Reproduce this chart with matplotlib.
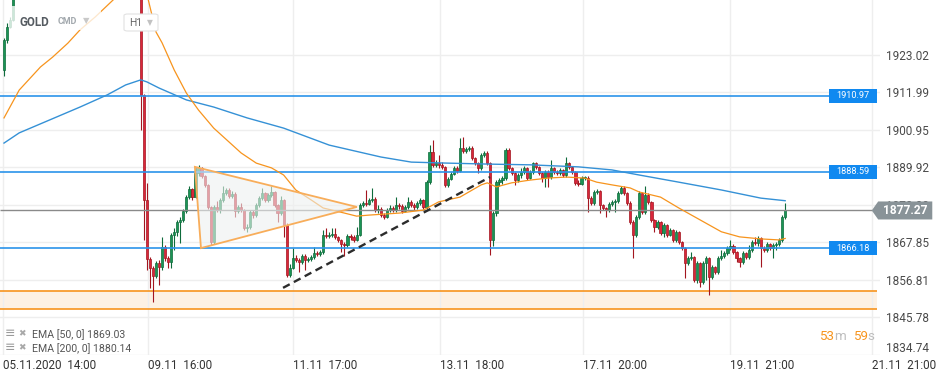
import numpy as np
import matplotlib
matplotlib.use("Agg")
import matplotlib.pyplot as plt
from matplotlib.patches import Polygon, FancyBboxPatch, Rectangle

plt.rcParams['font.family'] = ['Roboto', 'DejaVu Sans']

# ---- data (GOLD, H1) ----
first_open = 1918.6
close = [
    1927.4, 1931.3, 1933.3, 1941.5, 1944.0, 1946.2, 1945.1, 1948.3, 1950.6, 1949.2,
    1951.8, 1953.0, 1951.5, 1950.2, 1952.7, 1954.9, 1953.6, 1955.1, 1952.8, 1951.0,
    1953.4, 1956.2, 1955.0, 1957.3, 1959.1, 1958.0, 1956.4, 1954.7, 1955.9, 1957.8,
    1956.1, 1954.3, 1952.6, 1953.9, 1955.4, 1957.0, 1958.6, 1957.2, 1955.8, 1956.9,
    1958.3, 1959.5, 1960.4, 1958.7, 1957.5, 1911.3, 1880.4, 1863.0, 1860.4, 1858.0,
    1861.8, 1860.6, 1866.5, 1863.3, 1862.1, 1870.1, 1870.9, 1873.9, 1874.5, 1877.1,
    1881.2, 1883.6, 1881.2, 1888.3, 1889.8, 1887.4, 1884.8, 1878.3, 1868.0, 1878.3,
    1877.4, 1880.4, 1882.4, 1883.3, 1881.5, 1882.1, 1877.1, 1878.3, 1877.4, 1872.1,
    1872.4, 1876.8, 1876.0, 1878.9, 1880.9, 1882.4, 1880.4, 1881.8, 1882.7, 1878.9,
    1876.5, 1880.4, 1873.0, 1858.3, 1860.4, 1863.3, 1862.7, 1862.1, 1863.9, 1862.7,
    1863.0, 1863.6, 1864.8, 1864.5, 1865.1, 1870.1, 1869.8, 1870.1, 1870.4, 1869.5,
    1868.6, 1867.4, 1867.1, 1869.8, 1869.5, 1868.6, 1870.1, 1878.9, 1879.5, 1879.2,
    1880.4, 1880.7, 1877.4, 1877.8, 1876.0, 1875.4, 1877.4, 1878.0, 1877.4, 1878.9,
    1878.6, 1877.1, 1878.3, 1879.8, 1878.9, 1878.3, 1879.5, 1880.4, 1878.3, 1885.6,
    1894.5, 1890.7, 1891.2, 1890.7, 1890.1, 1884.8, 1886.5, 1888.0, 1889.8, 1888.9,
    1895.7, 1894.8, 1895.4, 1895.7, 1892.7, 1891.2, 1889.8, 1893.6, 1894.2, 1891.2,
    1868.6, 1876.5, 1885.6, 1886.2, 1886.8, 1895.1, 1889.8, 1888.3, 1886.2, 1887.7,
    1888.6, 1889.8, 1886.8, 1888.6, 1891.2, 1890.1, 1888.3, 1886.8, 1888.6, 1887.1,
    1889.8, 1888.6, 1888.3, 1889.2, 1887.7, 1891.2, 1890.1, 1888.6, 1885.4, 1885.1,
    1886.8, 1886.9, 1880.9, 1879.5, 1882.7, 1883.0, 1878.9, 1878.0, 1877.4, 1879.2,
    1879.8, 1880.1, 1882.4, 1883.9, 1882.4, 1879.5, 1873.9, 1870.1, 1875.4, 1882.4,
    1876.8, 1881.8, 1879.8, 1874.5, 1872.4, 1873.9, 1870.6, 1873.0, 1870.1, 1871.5,
    1868.6, 1870.9, 1868.0, 1866.2, 1861.8, 1863.3, 1863.6, 1856.8, 1861.8, 1856.2,
    1861.8, 1863.3, 1857.7, 1860.6, 1859.2, 1863.3, 1863.9, 1864.8, 1866.2, 1866.8,
    1865.1, 1863.3, 1862.1, 1864.8, 1863.6, 1865.6, 1868.0, 1867.7, 1869.2, 1866.2,
    1865.6, 1867.4, 1866.2, 1867.1, 1867.4, 1868.6, 1875.4, 1877.27,
]
high = [
    1928.0, 1932.4, 1934.2, 1942.3, 1944.8, 1946.9, 1947.0, 1949.0, 1951.4, 1951.2,
    1952.5, 1953.9, 1953.6, 1952.0, 1953.3, 1955.6, 1955.5, 1955.9, 1955.7, 1953.4,
    1954.0, 1956.9, 1956.8, 1958.0, 1959.9, 1959.7, 1958.6, 1956.9, 1956.5, 1958.4,
    1958.3, 1956.7, 1954.9, 1954.6, 1956.0, 1957.7, 1959.3, 1959.1, 1957.8, 1957.5,
    1959.0, 1960.2, 1961.1, 1960.9, 1959.2, 1962.0, 1911.5, 1885.4, 1863.5, 1861.0,
    1862.5, 1862.6, 1869.5, 1867.0, 1864.0, 1870.6, 1872.1, 1874.5, 1875.4, 1877.7,
    1881.8, 1884.5, 1883.9, 1890.1, 1890.7, 1890.1, 1887.7, 1885.1, 1878.6, 1878.9,
    1880.1, 1881.0, 1884.5, 1883.9, 1883.9, 1883.0, 1882.7, 1879.0, 1879.5, 1877.7,
    1873.3, 1877.4, 1877.4, 1879.5, 1881.5, 1883.9, 1882.7, 1882.4, 1884.5, 1883.0,
    1879.2, 1881.5, 1880.7, 1873.6, 1861.5, 1866.2, 1864.2, 1863.3, 1864.5, 1864.5,
    1863.6, 1864.2, 1866.5, 1865.4, 1865.7, 1871.5, 1872.1, 1870.9, 1872.1, 1872.1,
    1869.8, 1868.9, 1868.0, 1870.4, 1870.4, 1870.1, 1872.4, 1879.5, 1880.1, 1883.3,
    1881.0, 1883.9, 1881.2, 1878.9, 1878.3, 1876.5, 1878.0, 1878.9, 1878.6, 1881.2,
    1879.5, 1879.2, 1878.9, 1881.2, 1880.4, 1879.5, 1880.1, 1881.0, 1880.7, 1886.2,
    1896.5, 1898.0, 1892.1, 1893.6, 1891.5, 1890.4, 1887.1, 1888.6, 1890.4, 1890.4,
    1898.6, 1898.9, 1896.0, 1896.3, 1896.3, 1893.0, 1891.5, 1894.2, 1894.8, 1894.8,
    1891.5, 1877.1, 1886.2, 1886.8, 1887.4, 1895.7, 1895.7, 1890.1, 1888.6, 1888.3,
    1889.8, 1890.4, 1890.1, 1889.2, 1891.5, 1891.5, 1890.4, 1888.6, 1889.2, 1889.2,
    1892.1, 1890.1, 1889.2, 1889.8, 1889.5, 1893.0, 1891.5, 1890.4, 1888.9, 1886.2,
    1887.4, 1887.4, 1887.4, 1881.5, 1883.3, 1883.6, 1883.3, 1879.2, 1878.3, 1879.8,
    1880.4, 1880.7, 1883.0, 1884.5, 1884.5, 1882.7, 1880.1, 1874.5, 1876.0, 1883.0,
    1882.7, 1884.5, 1882.4, 1880.1, 1874.8, 1874.5, 1874.2, 1873.6, 1873.3, 1872.1,
    1871.8, 1871.5, 1871.2, 1868.3, 1866.5, 1863.9, 1865.1, 1863.9, 1862.4, 1862.1,
    1862.4, 1863.9, 1863.6, 1861.2, 1860.9, 1863.9, 1865.6, 1865.4, 1866.8, 1868.6,
    1867.4, 1865.4, 1863.6, 1865.4, 1865.1, 1867.1, 1868.6, 1869.5, 1869.8, 1869.5,
    1866.8, 1868.0, 1867.7, 1867.7, 1868.0, 1869.2, 1876.0, 1879.5,
]
low = [
    1916.8, 1926.6, 1931.0, 1932.9, 1940.9, 1943.5, 1944.5, 1944.8, 1947.9, 1948.6,
    1948.8, 1951.2, 1950.9, 1949.5, 1949.8, 1952.2, 1953.0, 1953.1, 1952.1, 1950.3,
    1950.6, 1953.0, 1954.4, 1954.6, 1956.8, 1957.4, 1955.8, 1954.0, 1954.2, 1955.4,
    1955.5, 1953.8, 1952.0, 1952.1, 1953.4, 1955.0, 1956.5, 1956.6, 1955.2, 1955.3,
    1956.4, 1957.9, 1959.0, 1958.1, 1956.9, 1901.0, 1868.6, 1859.8, 1854.5, 1850.4,
    1857.4, 1855.3, 1859.8, 1862.5, 1860.4, 1860.4, 1865.6, 1869.8, 1867.7, 1873.9,
    1876.5, 1880.6, 1880.4, 1880.9, 1887.4, 1886.8, 1884.2, 1877.7, 1867.1, 1867.4,
    1876.8, 1876.5, 1879.8, 1881.8, 1881.0, 1880.9, 1875.4, 1876.5, 1876.8, 1871.5,
    1870.9, 1871.8, 1875.1, 1875.4, 1878.3, 1880.4, 1879.8, 1879.8, 1881.2, 1878.3,
    1873.9, 1876.0, 1869.5, 1857.7, 1857.7, 1860.1, 1862.1, 1859.2, 1861.5, 1859.8,
    1862.1, 1862.4, 1863.0, 1863.9, 1863.9, 1864.5, 1869.2, 1869.2, 1869.5, 1868.9,
    1868.0, 1865.1, 1863.9, 1866.5, 1868.6, 1868.0, 1868.3, 1869.8, 1878.3, 1878.6,
    1878.9, 1879.8, 1876.8, 1876.5, 1875.4, 1874.8, 1875.1, 1876.8, 1876.8, 1876.8,
    1877.7, 1876.5, 1876.8, 1877.7, 1878.3, 1877.4, 1877.7, 1878.9, 1877.7, 1877.7,
    1885.1, 1890.1, 1890.1, 1889.8, 1889.5, 1884.2, 1884.2, 1886.2, 1887.7, 1888.3,
    1888.6, 1894.2, 1894.2, 1894.8, 1892.1, 1890.7, 1888.3, 1889.2, 1893.0, 1890.7,
    1864.2, 1866.8, 1875.7, 1884.5, 1885.1, 1886.2, 1889.2, 1887.7, 1884.8, 1885.6,
    1886.8, 1888.0, 1886.2, 1886.5, 1888.0, 1889.5, 1887.7, 1885.6, 1884.2, 1884.2,
    1886.5, 1888.0, 1887.7, 1887.7, 1887.1, 1887.1, 1889.5, 1888.0, 1884.8, 1884.5,
    1884.8, 1886.2, 1876.8, 1878.9, 1878.9, 1882.1, 1876.5, 1877.4, 1875.4, 1876.8,
    1878.6, 1876.8, 1879.5, 1882.1, 1881.8, 1878.9, 1873.3, 1863.3, 1869.5, 1874.8,
    1876.2, 1876.2, 1879.2, 1873.9, 1870.9, 1871.8, 1870.1, 1869.5, 1869.5, 1869.8,
    1868.0, 1868.0, 1867.4, 1865.6, 1857.4, 1861.2, 1862.7, 1856.2, 1856.0, 1854.8,
    1855.6, 1856.8, 1852.4, 1857.1, 1858.6, 1858.6, 1862.7, 1863.3, 1864.2, 1865.6,
    1864.5, 1862.1, 1860.6, 1861.5, 1863.0, 1863.0, 1865.1, 1867.1, 1866.8, 1860.6,
    1865.1, 1865.1, 1865.6, 1863.3, 1865.6, 1866.8, 1868.0, 1874.8,
]

ema50_idx = [0, 5, 12, 16, 21, 25, 30, 38, 44, 47, 50, 52, 56, 60, 64, 69, 78, 83, 88, 92,
             96, 101, 105, 112, 116, 120, 130, 138, 143, 150, 157, 159, 162, 167, 173, 179,
             185, 191, 195, 200, 206, 209, 216, 222, 229, 236, 242, 249, 255, 257]
ema50_val = [1904.5, 1912.7, 1919.5, 1922.4, 1926.5, 1930.4, 1934.2, 1941.0, 1944.4, 1941.0,
             1929.8, 1926.6, 1918.6, 1911.8, 1906.8, 1901.5, 1894.2, 1891.2, 1889.8, 1887.7,
             1883.3, 1880.4, 1878.0, 1876.5, 1875.6, 1875.9, 1876.5, 1877.4, 1879.8, 1881.2,
             1884.8, 1885.4, 1884.2, 1885.4, 1886.2, 1886.8, 1887.1, 1886.8, 1885.6, 1884.8,
             1883.9, 1882.7, 1881.2, 1878.0, 1874.5, 1871.0, 1869.5, 1868.9, 1868.6, 1869.03]
ema200_idx = [0, 5, 15, 25, 34, 40, 45, 47, 51, 60, 69, 80, 92, 107, 124, 134, 146, 160,
              173, 189, 200, 209, 222, 236, 249, 257]
ema200_val = [1897.1, 1900.1, 1903.9, 1907.7, 1911.3, 1914.2, 1915.7, 1915.1, 1913.3, 1909.8,
              1907.7, 1904.5, 1901.5, 1896.5, 1893.0, 1891.5, 1891.2, 1890.9, 1890.7, 1890.1,
              1889.2, 1887.7, 1885.6, 1883.3, 1880.9, 1880.14]

levels = [1910.97, 1888.59, 1866.18]
last_price = 1877.27
zone = (1848.2, 1853.7)
triangle_idx = [62.8, 64.8, 116.1]
triangle_val = [1890.1, 1866.2, 1878.3]
trend_idx = [91.8, 159.9]
trend_val = [1854.5, 1887.1]

xtick_pos = [-0.33, 47.4, 95.1, 143.4, 190.5, 238.8, 285.5]
xtick_labels = ["05.11.2020  14:00", "09.11  16:00", "11.11  17:00", "13.11  18:00",
                "17.11  20:00", "19.11  21:00", "21.11  21:00"]
ytick_vals = [1834.74, 1845.78, 1856.81, 1867.85, 1878.88, 1889.92, 1900.95, 1911.99, 1923.02]

# ---- figure ----
W, H = 945, 381
fig = plt.figure(figsize=(W / 100, H / 100), dpi=100)
ax = fig.add_axes([0, 26 / H, 880 / W, 355 / H])
ax.set_xlim(-1.32, 288.2)
ax.set_ylim(1834.74, 1939.2)
for s in ax.spines.values():
    s.set_visible(False)

def px(x, y):
    return x / W, 1 - y / H

# grid
ax.set_yticks(ytick_vals)
ax.set_yticklabels([f"{v:.2f}" for v in ytick_vals])
ax.yaxis.tick_right()
ax.tick_params(axis='y', length=0, pad=4, labelsize=8.5, labelcolor='#4a4a4a')
ax.set_xticks(xtick_pos)
ax.set_xticklabels(xtick_labels, ha='left')
ax.tick_params(axis='x', length=0, pad=3, labelsize=8.4, labelcolor='#333333')
ax.grid(True, color='#eeeeee', lw=1.0, zorder=0)
ax.set_axisbelow(True)
ax.get_yticklabels()[0].set_va('bottom')

# support zone
ax.axhspan(zone[0], zone[1], xmin=0, xmax=(287.2 + 1.32) / 289.52, color='#fdf1e3', zorder=0.5, lw=0)
ax.hlines(zone, -1.32, 287.2, color='#f7941d', lw=1.2, zorder=1)

# candles
n = min(len(close), len(high), len(low))
c = np.array(close[:n])
o = np.r_[first_open, c[:-1]]
hi = np.array(high[:n])
lo = np.array(low[:n])
idx = np.arange(n)
up = c >= o
col_body = np.where(up, '#1a9455', '#d9263a')
col_edge = np.where(up, '#0e6b3b', '#a3151f')
ax.vlines(idx, lo, hi, colors=col_edge, lw=0.8, zorder=3)
bottom = np.minimum(o, c)
height = np.maximum(np.abs(c - o), 0.35)
ax.bar(idx, height, bottom=bottom, width=0.72, color=col_body, edgecolor=col_edge,
       lw=0.5, zorder=3.1)

# horizontal levels
ax.hlines(levels, -1.32, 271.4, color='#2b93ea', lw=1.2, zorder=3.5)
ax.hlines(last_price, -1.32, 285.5, color='#8a8a8a', lw=1.0, zorder=3.5)

# EMAs
ax.plot(ema200_idx, ema200_val, color='#3591d6', lw=1.0, zorder=4)
ax.plot(ema50_idx, ema50_val, color='#f7941d', lw=0.9, zorder=4)

# triangle + trend line
tri = Polygon(list(zip(triangle_idx, triangle_val)), closed=True, facecolor='#eef1f0',
              alpha=0.6, edgecolor='none', zorder=5)
ax.add_patch(tri)
tri_e = Polygon(list(zip(triangle_idx, triangle_val)), closed=True, facecolor='none',
                edgecolor='#f8ad5a', lw=1.3, zorder=5.1)
ax.add_patch(tri_e)
ax.plot(trend_idx, trend_val, color='#2c2c2c', lw=1.7, ls=(0, (3.2, 2.0)), zorder=6,
        solid_capstyle='butt', dash_capstyle='butt')

# level tags
for lv in levels:
    ax.add_patch(Rectangle((271.4, lv - 2.05), 15.8, 4.1, facecolor='#1089f0', edgecolor='none',
                           zorder=7, clip_on=False))
    ax.text(279.3, lv, f"{lv:.2f}", color='white', fontsize=6.6, ha='center', va='center',
            zorder=7.1, clip_on=False)

# last price tag
tag = Polygon([(285.5, last_price), (287.6, last_price + 2.65), (305.4, last_price + 2.65),
               (305.4, last_price - 2.65), (287.6, last_price - 2.65)], closed=True,
              facecolor='#899398', edgecolor='none', zorder=10, clip_on=False)
ax.add_patch(tag)
ax.text(296.6, last_price, f"{last_price:.2f}", color='white', fontsize=8.6, fontweight='bold',
        ha='center', va='center', zorder=11, clip_on=False)

# header overlay
fig.patches.append(Rectangle(px(9, 30), 92 / W, 24 / H, transform=fig.transFigure,
                             facecolor='white', alpha=0.78, edgecolor='none', zorder=20))
fig.text(*px(20, 22), "GOLD", fontsize=8.4, fontweight='bold', color='#555b61', va='center', zorder=21)
fig.text(*px(58, 22), "CMD", fontsize=6.4, fontweight='bold', color='#a3a9ae', va='center', zorder=21)
fig.text(*px(83, 21), "\u25bc", fontsize=6, color='#c9c9c9', va='center', zorder=21)
fig.patches.append(FancyBboxPatch(px(124, 31), 34 / W, 17 / H, boxstyle='round,pad=0,rounding_size=0.004',
                                  transform=fig.transFigure, facecolor='white', edgecolor='#e2e2e2',
                                  lw=0.8, zorder=20))
fig.text(*px(129, 23), "H1", fontsize=7.4, color='#666666', va='center', zorder=21)
fig.text(*px(147, 23), "\u25bc", fontsize=5.5, color='#c2c2c2', va='center', zorder=21)

# indicator legend
for yy, txt in [(334, "EMA [50, 0] 1869.03"), (348, "EMA [200, 0] 1880.14")]:
    fig.text(*px(5, yy), "\u2261", fontsize=9, color='#9a9a9a', va='center', zorder=21)
    fig.text(*px(18, yy), "\u2716", fontsize=6.5, color='#a8a8a8', va='center', zorder=21,
             family=['DejaVu Sans'])
    fig.text(*px(32, yy + 1), txt, fontsize=7.6, color='#555555', va='center', zorder=21)

# countdown
fig.text(*px(819, 337), "53", fontsize=9.6, color='#f7941d', va='center')
fig.text(*px(834, 337), "m", fontsize=9.6, color='#bdbdbd', va='center')
fig.text(*px(853, 337), "59", fontsize=9.6, color='#f7941d', va='center')
fig.text(*px(867, 337), "s", fontsize=9.6, color='#bdbdbd', va='center')

fig.savefig('out.png', dpi=100)
